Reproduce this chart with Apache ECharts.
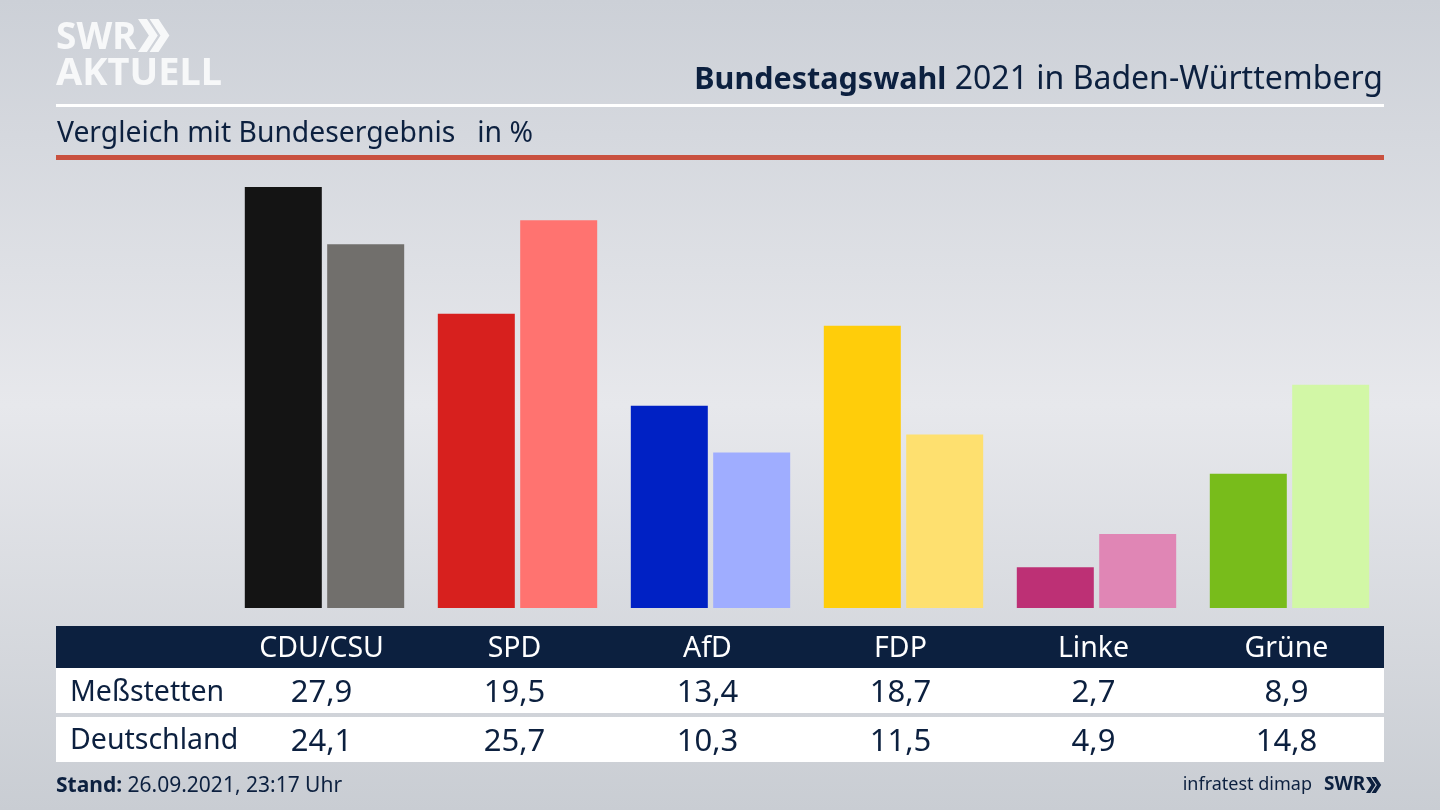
<!DOCTYPE html>
<html>
<head>
<meta charset="utf-8">
<title>Bundestagswahl 2021 in Baden-Württemberg</title>
<style>
    html, body { margin: 0; padding: 0; }
    #main { width: 1440px; height: 810px; }
</style>
</head>
<body>
<div id="main"></div>
<script src="https://cdn.jsdelivr.net/npm/echarts@6/dist/echarts.min.js"></script>
<script>
    var parties = ["CDU/CSU", "SPD", "AfD", "FDP", "Linke", "Grüne"];
    var rowLocal = "Meßstetten";
    var rowGermany = "Deutschland";
    var valuesLocal = [27.9, 19.5, 13.4, 18.7, 2.7, 8.9];
    var valuesGermany = [24.1, 25.7, 10.3, 11.5, 4.9, 14.8];
    var colorsLocal = ["#141414", "#d7201e", "#0021c4", "#ffcd0a", "#bd3075", "#78bc1b"];
    var colorsGermany = ["#716f6c", "#ff7370", "#9fadff", "#fee06f", "#e086b5", "#d2f7a6"];

    var NAVY = "#0c203f";
    var FONT = '"Noto Sans", sans-serif';

    function fmt(v) { return v.toFixed(1).replace(".", ","); }

    function bars(values, colors) {
        return values.map(function (v, i) {
            return { value: v, itemStyle: { color: colors[i] } };
        });
    }

    // table columns sit on their own grid, they are a little left of the bars
    function tableAxis(data, margin, color, size) {
        return {
            type: "category",
            gridIndex: 1,
            position: "bottom",
            data: data,
            axisLine: { show: false },
            axisTick: { show: false },
            axisLabel: {
                margin: margin, interval: 0, color: color, fontFamily: FONT,
                fontSize: size, verticalAlign: "middle"
            }
        };
    }

    function rect(x, y, w, h, fill) {
        return { type: "rect", z: -1, shape: { x: x, y: y, width: w, height: h }, style: { fill: fill } };
    }

    function text(x, y, str, size, color, weight, align) {
        return {
            type: "text", x: x, y: y, z: 5,
            style: {
                text: str, fill: color, fontFamily: FONT, fontSize: size,
                fontWeight: weight || "normal", textAlign: align || "left", textVerticalAlign: "middle"
            }
        };
    }

    function chevrons(x, y, h, fill) {
        // the two arrows of the SWR logo
        var w = h * 0.33, t = h * 0.27, out = [];
        [0, t * 1.3].forEach(function (dx) {
            out.push({
                type: "polygon", z: 5,
                shape: { points: [[x + dx, y], [x + dx + t, y], [x + dx + t + w, y + h / 2], [x + dx + t, y + h], [x + dx, y + h], [x + dx + w, y + h / 2]] },
                style: { fill: fill }
            });
        });
        return out;
    }

    var chart = echarts.init(document.getElementById("main"));
    chart.setOption({
        animation: false,
        backgroundColor: {
            type: "linear", x: 0, y: 0, x2: 0, y2: 1,
            colorStops: [
                { offset: 0, color: "#ccd0d7" },
                { offset: 0.5, color: "#e7e8ec" },
                { offset: 1, color: "#c9cdd3" }
            ]
        },
        grid: [
            { left: 228, top: 155.3, width: 1158, height: 452.7 },
            { left: 225, top: 155.3, width: 1158, height: 452.7 }
        ],
        xAxis: [
            { type: "category", gridIndex: 0, data: parties, show: false },
            tableAxis(parties, 41, "#ffffff", 28.5),
            tableAxis(valuesLocal.map(fmt), 85, NAVY, 31),
            tableAxis(valuesGermany.map(fmt), 134, NAVY, 31)
        ],
        yAxis: [
            { type: "value", gridIndex: 0, min: 0, max: 30, show: false },
            { type: "value", gridIndex: 1, min: 0, max: 30, show: false }
        ],
        series: [
            { type: "bar", barWidth: 77, barGap: "7%", data: bars(valuesLocal, colorsLocal) },
            { type: "bar", barWidth: 77, barGap: "7%", data: bars(valuesGermany, colorsGermany) }
        ],
        graphic: [
            rect(56, 104, 1328, 3, "#ffffff"),
            rect(56, 155, 1328, 5, "#c9513f"),
            rect(56, 626, 1328, 42, NAVY),
            rect(56, 668, 1328, 45, "#ffffff"),
            rect(56, 717, 1328, 45, "#ffffff"),
            {
                type: "text", x: 1383, y: 80, z: 5,
                style: {
                    text: "{b|Bundestagswahl} {r|2021 in Baden-Württemberg}",
                    fill: NAVY, fontFamily: FONT, fontSize: 32, textAlign: "right", textVerticalAlign: "middle",
                    rich: {
                        b: { fontFamily: FONT, fontSize: 30.5, fontWeight: "bold", fill: NAVY },
                        r: { fontFamily: FONT, fontSize: 32, fill: NAVY }
                    }
                }
            },
            text(57, 134, "Vergleich mit Bundesergebnis   in %", 28.3, NAVY),
            text(70, 693, rowLocal, 28.5, NAVY),
            text(70, 741, rowGermany, 28.5, NAVY),
            {
                type: "text", x: 56, y: 786, z: 5,
                style: {
                    text: "{b|Stand:} 26.09.2021, 23:17 Uhr",
                    fill: NAVY, fontFamily: FONT, fontSize: 21, textVerticalAlign: "middle",
                    rich: { b: { fontFamily: FONT, fontSize: 21, fontWeight: "bold", fill: NAVY } }
                }
            },
            text(1312, 785, "infratest dimap", 18, NAVY, "normal", "right"),
            text(1324, 785, "SWR", 19, NAVY, "bold"),
            text(56, 38, "SWR", 37, "#f7f8f9", "bold"),
            text(56, 74, "AKTUELL", 38, "#f7f8f9", "bold")
        ].concat(chevrons(138, 19, 33, "#f7f8f9"), chevrons(1366, 777, 16, NAVY))
    });
</script>
</body>
</html>
